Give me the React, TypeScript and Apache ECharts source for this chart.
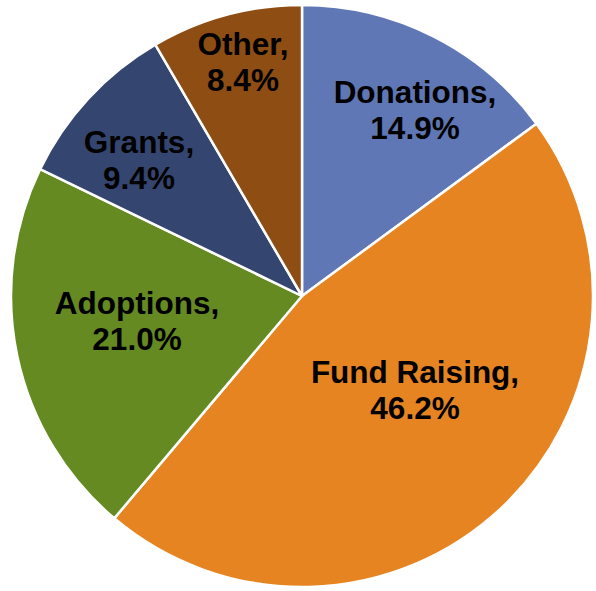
import React, { useEffect, useRef } from "react";
import * as echarts from "echarts";

const categories = ["Donations", "Fund Raising", "Adoptions", "Grants", "Other"];
const values = [14.9, 46.2, 21.0, 9.4, 8.4];
const colors = ["#6077B5", "#E68422", "#658A22", "#34466F", "#8E4D13"];
// label block centres (px) as placed in the reference
const labelAnchors: [number, number][] = [
  [415, 110],
  [415, 390],
  [137, 321],
  [139, 160],
  [243, 62],
];

export default function App() {
  const ref = useRef<HTMLDivElement>(null);
  useEffect(() => {
    document.body.style.margin = "0";
    const chart = echarts.init(ref.current!, null, { renderer: "svg" });
    chart.setOption({
      animation: false,
      backgroundColor: "#ffffff",
      series: [
        {
          type: "pie",
          center: [302, 296],
          radius: 291,
          startAngle: 90,
          clockwise: true,
          data: categories.map((c, i) => ({
            name: c,
            value: values[i],
            itemStyle: { color: colors[i] },
          })),
          itemStyle: { borderColor: "#ffffff", borderWidth: 2.5 },
          label: {
            show: true,
            position: "inside",
            formatter: (p: any) => `${p.name},\n${Number(p.value).toFixed(1)}%`,
            color: "#000000",
            fontFamily: "Liberation Sans, Arial, sans-serif",
            fontWeight: "bold",
            fontSize: 31.5,
            lineHeight: 36,
            align: "center",
          },
          labelLine: { show: false },
          labelLayout: (params: any) => {
            const a = labelAnchors[params.dataIndex];
            return { x: a[0], y: a[1], align: "center", verticalAlign: "middle" };
          },
        },
      ],
    });
    return () => chart.dispose();
  }, []);
  return <div ref={ref} style={{ width: 596, height: 591 }} />;
}
